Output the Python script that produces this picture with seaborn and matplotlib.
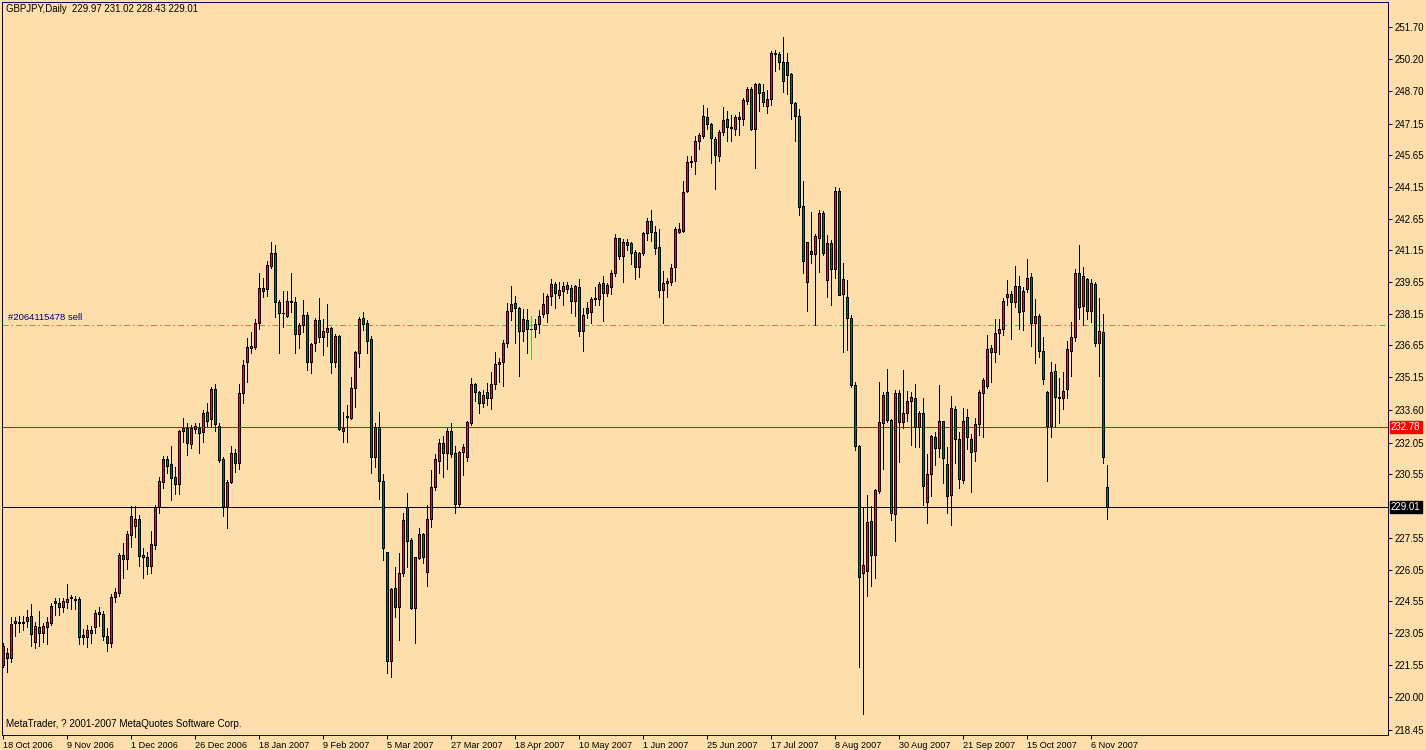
import numpy as np
import pandas as pd
import matplotlib
matplotlib.use("Agg")
import matplotlib.pyplot as plt
import seaborn as sns
from matplotlib.transforms import blended_transform_factory

# ---------------- data (GBPJPY daily) ----------------
opens = [221.55, 222.09, 221.85, 223.50, 223.55, 223.50, 223.60, 223.85, 222.64, 223.33,
         223.06, 223.35, 223.54, 224.56, 224.45, 224.29, 224.53, 224.70, 224.66, 224.66,
         222.96, 222.88, 223.19, 223.32, 224.06, 223.95, 222.90, 222.60, 224.77, 224.96,
         226.74, 226.55, 227.69, 228.13, 228.44, 226.74, 226.63, 226.23, 227.23, 229.00,
         230.21, 231.27, 231.03, 230.41, 230.11, 232.62, 232.73, 231.99, 232.70, 232.73,
         232.54, 233.49, 233.16, 234.58, 232.85, 231.27, 229.00, 230.18, 231.55, 231.08,
         234.39, 235.88, 236.55, 236.60, 237.70, 239.35, 239.31, 240.43, 241.01, 238.69,
         238.17, 238.04, 238.69, 238.69, 237.17, 237.62, 238.09, 235.88, 236.75, 237.85,
         237.06, 237.27, 237.49, 235.88, 237.10, 232.62, 233.28, 233.23, 234.62, 236.28,
         237.93, 237.70, 236.94, 231.36, 232.78, 230.25, 226.86, 221.74, 225.16, 224.26,
         225.87, 229.02, 227.45, 224.21, 226.58, 227.72, 225.95, 228.42, 229.97, 231.20,
         232.02, 231.55, 232.60, 231.55, 229.13, 231.59, 231.36, 233.00, 234.81, 234.46,
         233.94, 234.43, 234.15, 234.81, 235.76, 235.85, 236.75, 238.28, 238.64, 238.41,
         237.35, 237.85, 237.41, 237.41, 237.65, 238.12, 238.20, 238.99, 239.56, 239.04,
         239.24, 239.51, 239.38, 238.77, 239.40, 237.35, 238.44, 238.25, 238.85, 238.85,
         239.59, 239.15, 239.43, 240.06, 241.72, 240.90, 241.53, 241.48, 241.05, 240.38,
         241.01, 241.96, 242.54, 242.01, 241.30, 239.28, 239.59, 239.64, 240.34, 242.15,
         242.07, 243.98, 245.32, 245.40, 246.30, 246.58, 247.45, 247.13, 246.42, 245.63,
         246.77, 247.35, 246.93, 246.90, 247.38, 247.38, 248.21, 248.76, 246.90, 249.02,
         248.64, 247.99, 248.29, 250.44, 250.44, 250.04, 250.04, 249.49, 248.13, 247.50,
         243.24, 239.67, 241.12, 240.96, 241.75, 242.93, 239.76, 241.50, 240.25, 243.94,
         239.10, 238.94, 237.93, 234.79, 231.89, 225.88, 225.96, 228.35, 226.72, 229.79,
         232.99, 234.43, 233.13, 228.68, 234.41, 233.05, 233.44, 234.01, 234.18, 232.81,
         233.48, 229.23, 230.55, 232.30, 231.78, 233.07, 231.04, 229.57, 233.64, 232.25,
         230.31, 233.25, 232.25, 231.67, 232.92, 234.41, 234.73, 236.51, 236.32, 237.22,
         237.41, 238.93, 239.07, 238.69, 239.46, 238.30, 239.31, 239.87, 237.70, 238.05,
         236.39, 234.43, 232.86, 235.44, 234.23, 234.18, 234.58, 236.40, 237.04, 240.06,
         238.53, 239.80, 238.30, 239.56, 236.78, 237.30, 229.97]
highs = [222.60, 222.33, 223.82, 223.79, 223.85, 223.85, 224.14, 224.41, 223.58, 224.09,
         223.54, 223.82, 224.48, 224.72, 224.69, 224.72, 225.37, 224.85, 224.80, 224.77,
         223.22, 223.43, 223.40, 224.14, 224.30, 224.10, 223.30, 224.90, 225.20, 226.85,
         227.29, 227.88, 229.06, 229.06, 228.63, 227.06, 226.90, 227.88, 229.10, 230.41,
         231.42, 231.42, 231.90, 230.89, 232.65, 233.21, 232.99, 232.90, 233.00, 232.99,
         233.60, 233.91, 234.70, 234.83, 232.97, 231.36, 230.29, 231.90, 231.74, 234.83,
         235.96, 236.99, 237.30, 237.89, 240.06, 239.82, 240.66, 241.53, 241.40, 238.80,
         239.22, 239.22, 240.09, 238.96, 237.73, 238.80, 238.25, 236.75, 237.93, 238.88,
         237.88, 238.61, 237.54, 237.19, 237.14, 233.52, 233.83, 235.17, 236.40, 237.98,
         238.25, 237.85, 237.10, 233.00, 233.49, 230.57, 226.90, 225.16, 226.19, 226.82,
         228.71, 229.65, 227.53, 226.66, 228.00, 227.76, 229.10, 230.76, 231.52, 232.21,
         232.37, 232.73, 232.97, 231.89, 231.67, 231.97, 233.09, 235.13, 234.89, 234.51,
         234.54, 234.86, 235.41, 236.36, 236.04, 236.91, 238.64, 239.46, 239.01, 238.45,
         238.36, 238.38, 238.04, 237.89, 238.33, 239.15, 239.07, 239.78, 239.67, 239.67,
         239.67, 239.64, 239.51, 239.51, 239.79, 238.44, 238.69, 238.93, 239.40, 239.64,
         239.94, 239.59, 240.22, 241.92, 241.75, 241.67, 241.69, 241.56, 241.16, 241.09,
         242.03, 242.67, 243.06, 242.31, 242.15, 240.15, 239.86, 240.51, 242.27, 242.46,
         244.45, 245.62, 245.62, 246.58, 246.72, 248.03, 247.87, 247.19, 246.49, 246.85,
         247.92, 247.72, 247.56, 247.55, 247.71, 248.34, 248.89, 248.86, 249.08, 249.05,
         249.02, 248.73, 250.59, 250.62, 250.51, 251.22, 250.50, 249.55, 248.18, 247.83,
         244.43, 241.56, 242.95, 241.92, 243.06, 243.01, 241.87, 241.63, 244.15, 244.11,
         240.54, 239.76, 238.08, 234.90, 231.95, 229.01, 229.57, 229.05, 229.87, 234.92,
         234.46, 235.55, 233.18, 234.54, 234.54, 235.49, 234.51, 234.46, 234.82, 233.56,
         234.18, 231.50, 232.41, 232.54, 234.78, 233.09, 231.86, 234.26, 233.78, 232.57,
         233.67, 233.63, 232.46, 233.23, 234.54, 235.09, 237.14, 236.67, 237.90, 237.90,
         238.88, 239.75, 239.23, 240.41, 239.94, 239.43, 240.74, 240.09, 238.83, 238.14,
         237.04, 234.50, 235.85, 235.77, 235.10, 235.38, 236.86, 237.75, 240.25, 241.40,
         240.38, 239.86, 239.80, 239.64, 238.88, 238.14, 231.02]
lows = [221.44, 221.22, 221.69, 222.92, 223.10, 223.20, 223.35, 222.45, 222.33, 222.45,
        222.64, 222.53, 223.43, 223.90, 223.90, 224.06, 224.22, 224.17, 224.17, 222.53,
        222.53, 222.40, 222.60, 223.06, 223.40, 222.70, 222.20, 222.40, 224.50, 224.80,
        225.64, 226.08, 227.10, 227.60, 226.23, 225.64, 225.84, 225.87, 227.00, 228.71,
        229.90, 230.60, 229.34, 229.62, 229.62, 232.10, 231.47, 231.80, 232.52, 231.55,
        232.10, 232.84, 232.80, 232.62, 231.15, 228.60, 228.00, 230.14, 230.68, 230.79,
        233.91, 234.94, 236.30, 236.50, 237.43, 238.95, 239.00, 240.30, 237.98, 236.30,
        237.54, 237.98, 238.25, 236.31, 236.51, 237.30, 235.49, 235.33, 236.40, 236.83,
        236.20, 236.62, 235.36, 235.61, 232.65, 232.10, 232.07, 233.17, 233.75, 235.65,
        237.38, 236.28, 230.63, 230.92, 229.39, 226.50, 221.17, 220.98, 223.79, 222.72,
        225.74, 226.19, 224.17, 222.56, 226.53, 226.34, 225.27, 228.05, 229.81, 230.60,
        230.41, 230.79, 231.39, 228.71, 229.02, 230.52, 231.20, 232.90, 234.04, 233.47,
        233.75, 233.83, 233.63, 234.58, 234.94, 234.75, 236.56, 237.85, 236.78, 235.21,
        236.88, 236.31, 235.99, 237.07, 237.26, 238.01, 237.77, 238.56, 238.44, 238.91,
        238.56, 239.15, 238.20, 238.06, 237.11, 236.40, 237.93, 237.73, 238.56, 238.56,
        237.82, 238.99, 239.08, 239.94, 240.74, 239.67, 241.16, 240.50, 239.78, 239.90,
        240.93, 241.64, 241.57, 240.97, 238.93, 237.70, 238.96, 239.52, 239.72, 241.99,
        242.04, 243.93, 245.11, 244.75, 245.93, 246.45, 246.88, 245.27, 244.04, 245.40,
        246.61, 246.30, 246.30, 246.60, 246.60, 247.08, 248.07, 246.85, 245.06, 247.74,
        247.97, 247.66, 248.02, 249.65, 249.71, 248.65, 248.54, 247.34, 246.33, 242.82,
        240.09, 238.29, 240.56, 237.62, 240.14, 240.93, 238.94, 238.58, 239.84, 239.02,
        236.34, 236.45, 234.70, 231.69, 221.43, 219.23, 224.82, 225.29, 225.67, 229.66,
        230.83, 233.05, 228.39, 227.38, 231.16, 232.75, 233.08, 231.94, 231.86, 231.83,
        229.10, 228.23, 229.54, 231.02, 231.39, 230.16, 228.74, 228.15, 231.07, 229.89,
        230.16, 231.75, 229.70, 231.18, 232.41, 232.33, 234.62, 234.93, 235.88, 236.24,
        237.14, 238.57, 236.96, 238.49, 237.41, 237.38, 239.20, 236.63, 235.84, 236.12,
        234.83, 230.26, 232.34, 232.78, 233.00, 233.63, 234.18, 235.21, 236.88, 237.90,
        237.62, 237.90, 237.78, 236.63, 235.21, 231.11, 228.43]
closes = [222.45, 221.85, 223.48, 223.60, 223.50, 223.56, 223.80, 222.99, 223.38, 223.06,
          223.38, 223.57, 224.33, 224.48, 224.29, 224.56, 224.66, 224.72, 224.60, 222.88,
          222.88, 223.19, 223.06, 223.98, 223.95, 222.90, 222.60, 224.77, 225.00, 226.74,
          226.55, 227.73, 228.58, 228.44, 226.71, 226.63, 226.23, 227.26, 229.02, 230.24,
          231.27, 230.96, 230.40, 230.11, 232.60, 232.73, 232.05, 232.73, 232.85, 232.52,
          233.44, 233.09, 234.58, 232.94, 231.23, 229.00, 230.18, 231.55, 231.11, 234.39,
          235.73, 236.56, 236.63, 237.70, 239.35, 239.24, 240.46, 241.04, 238.72, 238.17,
          238.20, 238.75, 238.75, 237.21, 237.62, 238.09, 235.88, 236.70, 237.85, 237.06,
          237.33, 237.46, 235.88, 237.10, 232.68, 232.73, 233.31, 234.62, 236.32, 237.90,
          237.65, 236.86, 231.36, 232.78, 230.25, 227.05, 221.74, 225.11, 224.26, 225.87,
          228.39, 227.42, 224.21, 226.63, 227.72, 226.66, 228.42, 229.97, 231.26, 232.02,
          231.58, 232.60, 231.50, 229.13, 231.59, 231.83, 233.05, 234.81, 234.46, 233.91,
          234.31, 234.15, 234.81, 235.76, 235.85, 236.75, 238.28, 238.61, 238.41, 237.35,
          237.89, 237.41, 237.41, 237.67, 238.06, 238.60, 238.99, 239.56, 239.11, 239.27,
          239.46, 239.32, 238.77, 239.46, 237.35, 238.09, 238.20, 238.85, 238.91, 239.56,
          239.15, 239.51, 240.06, 241.72, 240.88, 241.53, 241.40, 241.04, 240.38, 241.01,
          241.95, 242.54, 242.01, 241.28, 239.28, 239.59, 239.71, 240.30, 242.15, 242.04,
          243.90, 245.32, 245.38, 246.33, 246.61, 247.51, 247.12, 246.45, 245.65, 246.77,
          247.32, 246.97, 246.97, 247.44, 247.44, 248.26, 248.76, 246.90, 249.02, 248.61,
          248.18, 248.29, 250.50, 250.50, 250.07, 249.17, 249.44, 248.10, 247.52, 243.21,
          240.66, 241.56, 240.96, 241.83, 242.93, 241.01, 241.52, 240.25, 243.94, 239.06,
          239.79, 237.96, 234.76, 231.89, 225.71, 226.27, 228.30, 226.76, 229.82, 233.03,
          234.33, 233.11, 228.71, 234.41, 233.05, 233.45, 234.01, 234.22, 232.81, 233.48,
          230.02, 230.55, 232.37, 231.78, 233.07, 231.31, 229.54, 233.67, 232.25, 230.33,
          233.09, 232.30, 231.62, 232.92, 234.43, 235.01, 236.48, 236.32, 237.22, 237.43,
          238.75, 239.07, 238.69, 239.46, 238.25, 239.23, 239.83, 237.70, 238.05, 236.40,
          235.05, 232.86, 235.38, 234.23, 234.18, 234.50, 236.48, 237.04, 240.09, 238.49,
          239.94, 238.30, 239.59, 236.78, 237.34, 231.39, 229.01]

date_labels = ["18 Oct 2006", "9 Nov 2006", "1 Dec 2006", "26 Dec 2006", "18 Jan 2007",
               "9 Feb 2007", "5 Mar 2007", "27 Mar 2007", "18 Apr 2007", "10 May 2007",
               "1 Jun 2007", "25 Jun 2007", "17 Jul 2007", "8 Aug 2007", "30 Aug 2007",
               "21 Sep 2007", "15 Oct 2007", "6 Nov 2007"]
label_step = 16  # bars between date labels

price_ticks = [251.70, 250.20, 248.70, 247.15, 245.65, 244.15, 242.65, 241.15, 239.65,
               238.15, 236.65, 235.15, 233.60, 232.05, 230.55, 227.55, 226.05, 224.55,
               223.05, 221.55, 220.00, 218.45]

bid_price = 229.01
order_price = 237.63
level_price = 232.78
doji_bar = 132

header = "GBPJPY,Daily  229.97 231.02 228.43 229.01"
order_label = "#2064115478 sell"
footer = "MetaTrader, ? 2001-2007 MetaQuotes Software Corp."

# ---------------- styling ----------------
BG = "#FEDFAB"
sns.set_theme(style="white", rc={"axes.facecolor": BG, "figure.facecolor": BG,
                                 "savefig.facecolor": BG})
plt.rcParams['font.family'] = ['Liberation Sans', 'DejaVu Sans']

W, H = 1426, 750
fig = plt.figure(figsize=(W / 100, H / 100), dpi=100)
ax = fig.add_axes([2 / W, 15 / H, 1386 / W, 733 / H])

df = pd.DataFrame({"o": opens, "h": highs, "l": lows, "c": closes})
df["x"] = np.arange(len(df))
up = df["c"] >= df["o"]

px = 0.72  # one pixel in points
wick_colors = ["#32CD32" if i == doji_bar else "black" for i in df["x"]]
ax.vlines(df["x"], df["l"], df["h"], colors=wick_colors, linewidth=px, antialiased=False, zorder=3)
body = (df["c"] - df["o"]).abs().clip(lower=0.03)
ax.bar(df["x"], body, bottom=np.minimum(df["o"], df["c"]), width=0.5,
       color=np.where(up, "#DC143C", "#008000"), edgecolor="black", linewidth=px,
       antialiased=False, zorder=4)

ax.axhline(level_price, color="red", linewidth=px, antialiased=False, zorder=2)
ax.axhline(bid_price, color="black", linewidth=px, antialiased=False, zorder=2)
ax.axhline(order_price, color="#32CD32", linewidth=px, dashes=(6, 3, 1.5, 3), zorder=2)

ax.set_xlim(-0.25, 346.25)
ax.set_ylim(218.225, 252.898)

for s in ax.spines.values():
    s.set_color("#000080")
    s.set_linewidth(px)

ax.yaxis.tick_right()
ax.set_yticks(price_ticks)
ax.set_yticklabels([f"{p:.2f}" for p in price_ticks])
ax.tick_params(axis="y", direction="out", length=3, width=px, color="black",
               labelsize=7, pad=2, labelcolor="black", right=True, left=False)

xt = np.arange(len(date_labels)) * label_step
ax.set_xticks(xt)
ax.set_xticklabels(date_labels, ha="left")
ax.tick_params(axis="x", direction="out", length=3, width=px, color="black",
               labelsize=6.6, pad=1, labelcolor="black", bottom=True)
ax.grid(False)

tr = blended_transform_factory(ax.transAxes, ax.transData)
ax.text(1.0 + 3 / 1386, level_price, f"{level_price:.2f}", transform=tr, ha="left",
        va="center", color="white", fontsize=7,
        bbox=dict(boxstyle="square,pad=0.12", fc="red", ec="red"))
ax.text(1.0 + 3 / 1386, bid_price, f"{bid_price:.2f}", transform=tr, ha="left",
        va="center", color="white", fontsize=7,
        bbox=dict(boxstyle="square,pad=0.12", fc="black", ec="black"))

fig.text(6 / W, 1 - 9 / H, header, ha="left", va="center", fontsize=6.9, color="black")
fig.text(8 / W, 1 - 317 / H, order_label, ha="left", va="center", fontsize=6.8, color="#000080")
fig.text(6 / W, 1 - 724 / H, footer, ha="left", va="center", fontsize=7.1, color="black")

fig.savefig("out.png", dpi=100, facecolor=BG)
